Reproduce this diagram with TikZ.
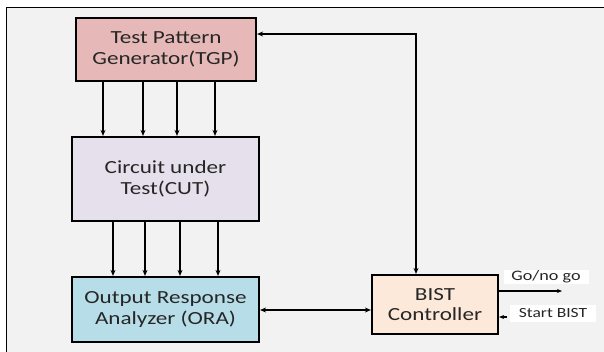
\documentclass[tikz,border=0pt]{standalone}
\usepackage{fontspec}
\setmainfont[FakeStretch=1.25]{Carlito}
\usetikzlibrary{arrows.meta}
\definecolor{bgc}{HTML}{F2F2F2}
\definecolor{tgpc}{HTML}{E6B9B8}
\definecolor{cutc}{HTML}{E5E0EC}
\definecolor{orac}{HTML}{B7DEE8}
\definecolor{bistc}{HTML}{FDE9D9}
\begin{document}
\begin{tikzpicture}[x=1pt,y=-1pt,
  blk/.style={draw=black,line width=2.2pt,inner sep=0pt,align=center,font=\fontsize{18.5}{20.5}\selectfont,text=black!85},
  conn/.style={line width=1.3pt,-{Stealth[length=6pt,width=5pt]}},
  conn2/.style={line width=1.3pt,{Stealth[length=6pt,width=5pt]}-{Stealth[length=6pt,width=5pt]}},
  lbl/.style={fill=white,inner sep=1pt,text=black!85}]
\useasboundingbox (0,0) rectangle (604,351);
\fill[white] (0,0) rectangle (604,351);
\begin{scope}
\clip (0,0) rectangle (604,351);
\draw[fill=bgc,line width=1pt] (6,7.5) rectangle (620,370);
\end{scope}
\node[blk,fill=tgpc,minimum width=180pt,minimum height=63pt] (tgp) at (166,49.5) {Test Pattern\\Generator(TGP)};
\node[blk,fill=cutc,minimum width=187pt,minimum height=84pt] (cut) at (165.5,179) {Circuit under\\Test(CUT)};
\node[blk,fill=orac,minimum width=187pt,minimum height=65pt] (ora) at (165.5,309.5) {Output Response\\Analyzer (ORA)};
\node[blk,fill=bistc,minimum width=126pt,minimum height=59pt] (bist) at (435,304.5) {BIST\\Controller};
% TGP -> CUT
\foreach \x in {103,143,177,215}
  \draw[conn] (tgp.south -| \x,0) -- (cut.north -| \x,0);
% CUT -> ORA
\foreach \x in {113,145,180,218}
  \draw[conn] (cut.south -| \x,0) -- (ora.north -| \x,0);
% feedback
\coordinate (corner) at (416,34);
\draw[conn2] (tgp.east |- corner) -- (corner) -- (bist.north -| corner);
% ORA <-> BIST
\draw[conn2] (ora.east |- 0,310) -- (bist.west |- 0,310);
% Go/no go
\coordinate (goend) at (562,291);
\draw[line width=1.1pt,-{Stealth[length=5pt,width=4pt]}] (bist.east |- goend) -- (goend);
\node[lbl,font=\fontsize{14.5}{16}\selectfont,minimum width=85pt,minimum height=12pt] (go) at (546,277) {Go/no go};
% Start BIST
\node[lbl,font=\fontsize{14}{15}\selectfont,minimum width=86pt,minimum height=17pt] (start) at (553,313) {Start BIST};
\coordinate (stend) at (507,317);
\draw[line width=1.1pt,-{Stealth[length=5pt,width=4pt]}] (stend) -- (bist.east |- stend);
\end{tikzpicture}
\end{document}
